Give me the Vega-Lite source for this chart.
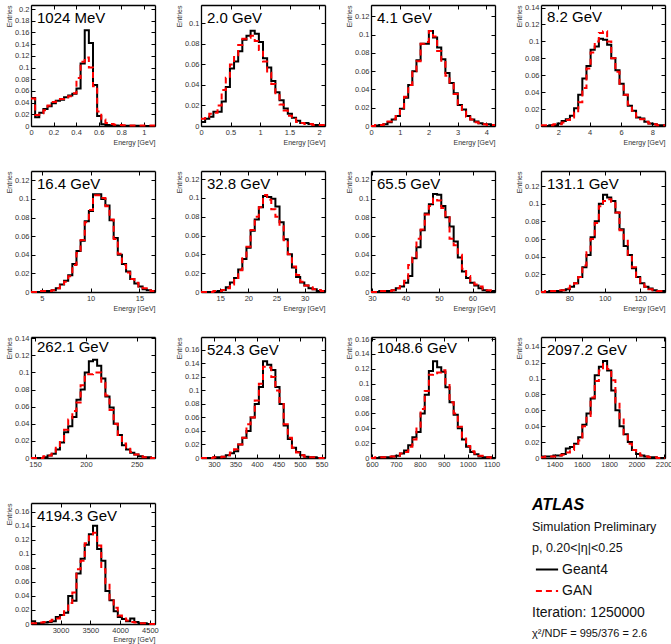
{
"$schema":"https://vega.github.io/schema/vega-lite/v6.json",
"columns":4,
"spacing":{"row":45,"column":46},
"bounds":"flush",
"padding":{"top":3,"left":5,"right":5,"bottom":5},
"resolve":{"scale":{"x":"independent","y":"independent"},"axis":{"x":"independent","y":"independent"}},
"concat":[
{"width":124,"height":121,"title":"1024 MeV",
"data":{"values":[
{"e":0,"g":0.048,"n":0.047},{"e":0.0367,"g":0.015,"n":0.019},{"e":0.0733,"g":0.0226,"n":0.022},{"e":0.11,"g":0.029,"n":0.027},{"e":0.1467,"g":0.034,"n":0.035},{"e":0.1833,"g":0.039,"n":0.041},{"e":0.22,"g":0.043,"n":0.042},{"e":0.2567,"g":0.045,"n":0.046},{"e":0.2933,"g":0.049,"n":0.049},{"e":0.33,"g":0.052,"n":0.051},{"e":0.3667,"g":0.055,"n":0.056},{"e":0.4033,"g":0.064,"n":0.082},{"e":0.44,"g":0.107,"n":0.11},{"e":0.4767,"g":0.164,"n":0.117},{"e":0.5133,"g":0.142,"n":0.1},{"e":0.55,"g":0.07,"n":0.068},{"e":0.5867,"g":0.017,"n":0.025},{"e":0.6233,"g":0.003,"n":0.011},{"e":0.66,"g":0.0015,"n":0.005},{"e":0.6967,"g":0.001,"n":0.0035},{"e":0.7333,"g":0.0008,"n":0.002},{"e":0.77,"g":0.0005,"n":0.0015},{"e":0.8067,"g":0.0005,"n":0.0012},{"e":0.8433,"g":0.0004,"n":0.001},{"e":0.88,"g":0.0003,"n":0.001},{"e":0.9167,"g":0.0003,"n":0.001},{"e":0.9533,"g":0.0002,"n":0.001},{"e":0.99,"g":0.0002,"n":0.0008},{"e":1.0267,"g":0.0001,"n":0.0008},{"e":1.0633,"g":0.0001,"n":0.0008},{"e":1.1,"g":0.0001,"n":0.0008}]},
"layer":[
{"mark":{"type":"line","interpolate":"step-after","color":"#000","strokeWidth":2},
"encoding":{"x":{"field":"e","type":"quantitative","scale":{"domain":[0,1.1],"nice":false,"zero":false},"axis":{"values":[0,0.2,0.4,0.6,0.8,1],"format":"~f","title":"Energy [GeV]"}},
"y":{"field":"g","type":"quantitative","scale":{"domain":[0,0.207],"nice":false},"axis":{"values":[0,0.02,0.04,0.06,0.08,0.1,0.12,0.14,0.16,0.18,0.2],"format":"~f","title":"Entries"}}}},
{"mark":{"type":"line","interpolate":"step-after","color":"#ff0000","strokeWidth":2,"strokeDash":[6,4]},
"encoding":{"x":{"field":"e","type":"quantitative","scale":{"domain":[0,1.1],"nice":false,"zero":false},"axis":{"orient":"top","values":[0,0.2,0.4,0.6,0.8,1],"labels":false,"title":null}},
"y":{"field":"n","type":"quantitative","scale":{"domain":[0,0.207],"nice":false},"axis":{"orient":"right","values":[0,0.02,0.04,0.06,0.08,0.1,0.12,0.14,0.16,0.18,0.2],"labels":false,"title":null}}}}],
"resolve":{"axis":{"x":"independent","y":"independent"}}},

{"width":124,"height":121,"title":"2.0 GeV",
"data":{"values":[
{"e":0,"g":0.004,"n":0.007},{"e":0.07,"g":0.007,"n":0.009},{"e":0.14,"g":0.009,"n":0.012},{"e":0.21,"g":0.014,"n":0.013},{"e":0.28,"g":0.014,"n":0.02},{"e":0.35,"g":0.024,"n":0.035},{"e":0.42,"g":0.038,"n":0.047},{"e":0.49,"g":0.056,"n":0.06},{"e":0.56,"g":0.063,"n":0.069},{"e":0.63,"g":0.073,"n":0.079},{"e":0.7,"g":0.084,"n":0.085},{"e":0.77,"g":0.088,"n":0.086},{"e":0.84,"g":0.093,"n":0.088},{"e":0.91,"g":0.09,"n":0.083},{"e":0.98,"g":0.082,"n":0.074},{"e":1.05,"g":0.066,"n":0.063},{"e":1.12,"g":0.057,"n":0.052},{"e":1.19,"g":0.044,"n":0.041},{"e":1.26,"g":0.033,"n":0.03},{"e":1.33,"g":0.025,"n":0.021},{"e":1.4,"g":0.017,"n":0.015},{"e":1.47,"g":0.012,"n":0.01},{"e":1.54,"g":0.008,"n":0.007},{"e":1.61,"g":0.005,"n":0.004},{"e":1.68,"g":0.003,"n":0.003},{"e":1.75,"g":0.003,"n":0.002},{"e":1.82,"g":0.002,"n":0.002},{"e":1.89,"g":0.001,"n":0.001},{"e":1.96,"g":0.001,"n":0.001},{"e":2.03,"g":0.0005,"n":0.001},{"e":2.1,"g":0.0005,"n":0.001}]},
"layer":[
{"mark":{"type":"line","interpolate":"step-after","color":"#000","strokeWidth":2},
"encoding":{"x":{"field":"e","type":"quantitative","scale":{"domain":[0,2.1],"nice":false,"zero":false},"axis":{"values":[0,0.5,1,1.5,2],"format":"~f","title":"Energy [GeV]"}},
"y":{"field":"g","type":"quantitative","scale":{"domain":[0,0.118],"nice":false},"axis":{"values":[0,0.02,0.04,0.06,0.08,0.1],"format":"~f","title":"Entries"}}}},
{"mark":{"type":"line","interpolate":"step-after","color":"#ff0000","strokeWidth":2,"strokeDash":[6,4]},
"encoding":{"x":{"field":"e","type":"quantitative","scale":{"domain":[0,2.1],"nice":false,"zero":false},"axis":{"orient":"top","values":[0,0.5,1,1.5,2],"labels":false,"title":null}},
"y":{"field":"n","type":"quantitative","scale":{"domain":[0,0.118],"nice":false},"axis":{"orient":"right","values":[0,0.02,0.04,0.06,0.08,0.1],"labels":false,"title":null}}}}],
"resolve":{"axis":{"x":"independent","y":"independent"}}},

{"width":124,"height":121,"title":"4.1 GeV",
"data":{"values":[
{"e":0,"g":0,"n":0},{"e":0.1433,"g":0.0005,"n":0.001},{"e":0.2867,"g":0.001,"n":0.001},{"e":0.43,"g":0.002,"n":0.002},{"e":0.5733,"g":0.004,"n":0.005},{"e":0.7167,"g":0.007,"n":0.008},{"e":0.86,"g":0.011,"n":0.011},{"e":1.0033,"g":0.019,"n":0.02},{"e":1.1467,"g":0.031,"n":0.032},{"e":1.29,"g":0.045,"n":0.045},{"e":1.4333,"g":0.06,"n":0.06},{"e":1.5767,"g":0.072,"n":0.071},{"e":1.72,"g":0.09,"n":0.09},{"e":1.8633,"g":0.09,"n":0.092},{"e":2.0067,"g":0.104,"n":0.104},{"e":2.15,"g":0.097,"n":0.098},{"e":2.2933,"g":0.086,"n":0.082},{"e":2.4367,"g":0.073,"n":0.07},{"e":2.58,"g":0.058,"n":0.055},{"e":2.7233,"g":0.047,"n":0.046},{"e":2.8667,"g":0.036,"n":0.035},{"e":3.01,"g":0.023,"n":0.022},{"e":3.1533,"g":0.018,"n":0.016},{"e":3.2967,"g":0.011,"n":0.01},{"e":3.44,"g":0.007,"n":0.007},{"e":3.5833,"g":0.005,"n":0.004},{"e":3.7267,"g":0.003,"n":0.003},{"e":3.87,"g":0.002,"n":0.002},{"e":4.0133,"g":0.002,"n":0.001},{"e":4.1567,"g":0.001,"n":0.001},{"e":4.3,"g":0.001,"n":0.001}]},
"layer":[
{"mark":{"type":"line","interpolate":"step-after","color":"#000","strokeWidth":2},
"encoding":{"x":{"field":"e","type":"quantitative","scale":{"domain":[0,4.3],"nice":false,"zero":false},"axis":{"values":[0,1,2,3,4],"format":"~f","title":"Energy [GeV]"}},
"y":{"field":"g","type":"quantitative","scale":{"domain":[0,0.1325],"nice":false},"axis":{"values":[0,0.02,0.04,0.06,0.08,0.1,0.12],"format":"~f","title":"Entries"}}}},
{"mark":{"type":"line","interpolate":"step-after","color":"#ff0000","strokeWidth":2,"strokeDash":[6,4]},
"encoding":{"x":{"field":"e","type":"quantitative","scale":{"domain":[0,4.3],"nice":false,"zero":false},"axis":{"orient":"top","values":[0,1,2,3,4],"labels":false,"title":null}},
"y":{"field":"n","type":"quantitative","scale":{"domain":[0,0.1325],"nice":false},"axis":{"orient":"right","values":[0,0.02,0.04,0.06,0.08,0.1,0.12],"labels":false,"title":null}}}}],
"resolve":{"axis":{"x":"independent","y":"independent"}}},

{"width":124,"height":121,"title":"8.2 GeV",
"data":{"values":[
{"e":0.9,"g":0,"n":0.001},{"e":1.1633,"g":0,"n":0.001},{"e":1.4267,"g":0.001,"n":0.001},{"e":1.69,"g":0.001,"n":0.002},{"e":1.9533,"g":0.003,"n":0.002},{"e":2.2167,"g":0.006,"n":0.004},{"e":2.48,"g":0.008,"n":0.007},{"e":2.7433,"g":0.012,"n":0.01},{"e":3.0067,"g":0.021,"n":0.016},{"e":3.27,"g":0.037,"n":0.028},{"e":3.5333,"g":0.056,"n":0.045},{"e":3.7967,"g":0.071,"n":0.068},{"e":4.06,"g":0.09,"n":0.087},{"e":4.3233,"g":0.094,"n":0.1},{"e":4.5867,"g":0.103,"n":0.11},{"e":4.85,"g":0.102,"n":0.112},{"e":5.1133,"g":0.096,"n":0.1},{"e":5.3767,"g":0.08,"n":0.08},{"e":5.64,"g":0.066,"n":0.064},{"e":5.9033,"g":0.05,"n":0.05},{"e":6.1667,"g":0.037,"n":0.037},{"e":6.43,"g":0.024,"n":0.025},{"e":6.6933,"g":0.018,"n":0.018},{"e":6.9567,"g":0.01,"n":0.011},{"e":7.22,"g":0.009,"n":0.008},{"e":7.4833,"g":0.005,"n":0.005},{"e":7.7467,"g":0.003,"n":0.003},{"e":8.01,"g":0.002,"n":0.002},{"e":8.2733,"g":0.001,"n":0.001},{"e":8.5367,"g":0.001,"n":0.001},{"e":8.8,"g":0.001,"n":0.001}]},
"layer":[
{"mark":{"type":"line","interpolate":"step-after","color":"#000","strokeWidth":2},
"encoding":{"x":{"field":"e","type":"quantitative","scale":{"domain":[0.9,8.8],"nice":false,"zero":false},"axis":{"values":[2,4,6,8],"format":"~f","title":"Energy [GeV]"}},
"y":{"field":"g","type":"quantitative","scale":{"domain":[0,0.143],"nice":false},"axis":{"values":[0,0.02,0.04,0.06,0.08,0.1,0.12,0.14],"format":"~f","title":"Entries"}}}},
{"mark":{"type":"line","interpolate":"step-after","color":"#ff0000","strokeWidth":2,"strokeDash":[6,4]},
"encoding":{"x":{"field":"e","type":"quantitative","scale":{"domain":[0.9,8.8],"nice":false,"zero":false},"axis":{"orient":"top","values":[2,4,6,8],"labels":false,"title":null}},
"y":{"field":"n","type":"quantitative","scale":{"domain":[0,0.143],"nice":false},"axis":{"orient":"right","values":[0,0.02,0.04,0.06,0.08,0.1,0.12,0.14],"labels":false,"title":null}}}}],
"resolve":{"axis":{"x":"independent","y":"independent"}}},

{"width":124,"height":121,"title":"16.4 GeV",
"data":{"values":[
{"e":3.9,"g":0,"n":0},{"e":4.3233,"g":0,"n":0},{"e":4.7467,"g":0,"n":0.001},{"e":5.17,"g":0.001,"n":0.001},{"e":5.5933,"g":0.001,"n":0.001},{"e":6.0167,"g":0.002,"n":0.002},{"e":6.44,"g":0.004,"n":0.004},{"e":6.8633,"g":0.008,"n":0.007},{"e":7.2867,"g":0.012,"n":0.011},{"e":7.71,"g":0.018,"n":0.017},{"e":8.1333,"g":0.03,"n":0.029},{"e":8.5567,"g":0.044,"n":0.042},{"e":8.98,"g":0.055,"n":0.056},{"e":9.4033,"g":0.076,"n":0.075},{"e":9.8267,"g":0.087,"n":0.088},{"e":10.25,"g":0.105,"n":0.104},{"e":10.6733,"g":0.105,"n":0.104},{"e":11.0967,"g":0.1,"n":0.101},{"e":11.52,"g":0.093,"n":0.092},{"e":11.9433,"g":0.077,"n":0.078},{"e":12.3667,"g":0.058,"n":0.057},{"e":12.79,"g":0.04,"n":0.041},{"e":13.2133,"g":0.03,"n":0.029},{"e":13.6367,"g":0.022,"n":0.021},{"e":14.06,"g":0.014,"n":0.014},{"e":14.4833,"g":0.009,"n":0.01},{"e":14.9067,"g":0.006,"n":0.006},{"e":15.33,"g":0.003,"n":0.004},{"e":15.7533,"g":0.002,"n":0.002},{"e":16.1767,"g":0.001,"n":0.001},{"e":16.6,"g":0.001,"n":0.001}]},
"layer":[
{"mark":{"type":"line","interpolate":"step-after","color":"#000","strokeWidth":2},
"encoding":{"x":{"field":"e","type":"quantitative","scale":{"domain":[3.9,16.6],"nice":false,"zero":false},"axis":{"values":[5,10,15],"format":"~f","title":"Energy [GeV]"}},
"y":{"field":"g","type":"quantitative","scale":{"domain":[0,0.13],"nice":false},"axis":{"values":[0,0.02,0.04,0.06,0.08,0.1,0.12],"format":"~f","title":"Entries"}}}},
{"mark":{"type":"line","interpolate":"step-after","color":"#ff0000","strokeWidth":2,"strokeDash":[6,4]},
"encoding":{"x":{"field":"e","type":"quantitative","scale":{"domain":[3.9,16.6],"nice":false,"zero":false},"axis":{"orient":"top","values":[5,10,15],"labels":false,"title":null}},
"y":{"field":"n","type":"quantitative","scale":{"domain":[0,0.13],"nice":false},"axis":{"orient":"right","values":[0,0.02,0.04,0.06,0.08,0.1,0.12],"labels":false,"title":null}}}}],
"resolve":{"axis":{"x":"independent","y":"independent"}}},

{"width":124,"height":121,"title":"32.8 GeV",
"data":{"values":[
{"e":11.6,"g":0,"n":0},{"e":12.3333,"g":0,"n":0},{"e":13.0667,"g":0,"n":0},{"e":13.8,"g":0,"n":0.001},{"e":14.5333,"g":0.001,"n":0.001},{"e":15.2667,"g":0.002,"n":0.002},{"e":16,"g":0.005,"n":0.004},{"e":16.7333,"g":0.01,"n":0.008},{"e":17.4667,"g":0.015,"n":0.015},{"e":18.2,"g":0.024,"n":0.023},{"e":18.9333,"g":0.035,"n":0.036},{"e":19.6667,"g":0.047,"n":0.048},{"e":20.4,"g":0.065,"n":0.066},{"e":21.1333,"g":0.077,"n":0.08},{"e":21.8667,"g":0.09,"n":0.09},{"e":22.6,"g":0.102,"n":0.103},{"e":23.3333,"g":0.101,"n":0.098},{"e":24.0667,"g":0.099,"n":0.088},{"e":24.8,"g":0.091,"n":0.08},{"e":25.5333,"g":0.074,"n":0.07},{"e":26.2667,"g":0.056,"n":0.055},{"e":27,"g":0.04,"n":0.04},{"e":27.7333,"g":0.026,"n":0.027},{"e":28.4667,"g":0.016,"n":0.018},{"e":29.2,"g":0.01,"n":0.011},{"e":29.9333,"g":0.007,"n":0.007},{"e":30.6667,"g":0.004,"n":0.005},{"e":31.4,"g":0.003,"n":0.003},{"e":32.1333,"g":0.001,"n":0.002},{"e":32.8667,"g":0.001,"n":0.001},{"e":33.6,"g":0.001,"n":0.001}]},
"layer":[
{"mark":{"type":"line","interpolate":"step-after","color":"#000","strokeWidth":2},
"encoding":{"x":{"field":"e","type":"quantitative","scale":{"domain":[11.6,33.6],"nice":false,"zero":false},"axis":{"values":[15,20,25,30],"format":"~f","title":"Energy [GeV]"}},
"y":{"field":"g","type":"quantitative","scale":{"domain":[0,0.1286],"nice":false},"axis":{"values":[0,0.02,0.04,0.06,0.08,0.1,0.12],"format":"~f","title":"Entries"}}}},
{"mark":{"type":"line","interpolate":"step-after","color":"#ff0000","strokeWidth":2,"strokeDash":[6,4]},
"encoding":{"x":{"field":"e","type":"quantitative","scale":{"domain":[11.6,33.6],"nice":false,"zero":false},"axis":{"orient":"top","values":[15,20,25,30],"labels":false,"title":null}},
"y":{"field":"n","type":"quantitative","scale":{"domain":[0,0.1286],"nice":false},"axis":{"orient":"right","values":[0,0.02,0.04,0.06,0.08,0.1,0.12],"labels":false,"title":null}}}}],
"resolve":{"axis":{"x":"independent","y":"independent"}}},

{"width":124,"height":121,"title":"65.5 GeV",
"data":{"values":[
{"e":29.7,"g":0,"n":0},{"e":30.9333,"g":0,"n":0},{"e":32.1667,"g":0.001,"n":0.001},{"e":33.4,"g":0.001,"n":0.001},{"e":34.6333,"g":0.001,"n":0.001},{"e":35.8667,"g":0.002,"n":0.002},{"e":37.1,"g":0.004,"n":0.004},{"e":38.3333,"g":0.006,"n":0.008},{"e":39.5667,"g":0.01,"n":0.012},{"e":40.8,"g":0.017,"n":0.029},{"e":42.0333,"g":0.036,"n":0.037},{"e":43.2667,"g":0.048,"n":0.057},{"e":44.5,"g":0.066,"n":0.067},{"e":45.7333,"g":0.084,"n":0.083},{"e":46.9667,"g":0.094,"n":0.092},{"e":48.2,"g":0.105,"n":0.1},{"e":49.4333,"g":0.104,"n":0.098},{"e":50.6667,"g":0.092,"n":0.09},{"e":51.9,"g":0.08,"n":0.08},{"e":53.1333,"g":0.07,"n":0.057},{"e":54.3667,"g":0.054,"n":0.05},{"e":55.6,"g":0.037,"n":0.04},{"e":56.8333,"g":0.022,"n":0.025},{"e":58.0667,"g":0.015,"n":0.017},{"e":59.3,"g":0.01,"n":0.01},{"e":60.5333,"g":0.007,"n":0.008},{"e":61.7667,"g":0.004,"n":0.006},{"e":63,"g":0.002,"n":0.003},{"e":64.2333,"g":0.001,"n":0.002},{"e":65.4667,"g":0.001,"n":0.001},{"e":66.7,"g":0.001,"n":0.001}]},
"layer":[
{"mark":{"type":"line","interpolate":"step-after","color":"#000","strokeWidth":2},
"encoding":{"x":{"field":"e","type":"quantitative","scale":{"domain":[29.7,66.7],"nice":false,"zero":false},"axis":{"values":[30,40,50,60],"format":"~f","title":"Energy [GeV]"}},
"y":{"field":"g","type":"quantitative","scale":{"domain":[0,0.1295],"nice":false},"axis":{"values":[0,0.02,0.04,0.06,0.08,0.1,0.12],"format":"~f","title":"Entries"}}}},
{"mark":{"type":"line","interpolate":"step-after","color":"#ff0000","strokeWidth":2,"strokeDash":[6,4]},
"encoding":{"x":{"field":"e","type":"quantitative","scale":{"domain":[29.7,66.7],"nice":false,"zero":false},"axis":{"orient":"top","values":[30,40,50,60],"labels":false,"title":null}},
"y":{"field":"n","type":"quantitative","scale":{"domain":[0,0.1295],"nice":false},"axis":{"orient":"right","values":[0,0.02,0.04,0.06,0.08,0.1,0.12],"labels":false,"title":null}}}}],
"resolve":{"axis":{"x":"independent","y":"independent"}}},

{"width":124,"height":121,"title":"131.1 GeV",
"data":{"values":[
{"e":64,"g":0,"n":0},{"e":66.333,"g":0,"n":0.001},{"e":68.667,"g":0.001,"n":0.001},{"e":71,"g":0.001,"n":0.001},{"e":73.333,"g":0.001,"n":0.002},{"e":75.667,"g":0.002,"n":0.002},{"e":78,"g":0.003,"n":0.004},{"e":80.333,"g":0.006,"n":0.007},{"e":82.667,"g":0.01,"n":0.01},{"e":85,"g":0.017,"n":0.017},{"e":87.333,"g":0.028,"n":0.03},{"e":89.667,"g":0.042,"n":0.045},{"e":92,"g":0.062,"n":0.06},{"e":94.333,"g":0.08,"n":0.078},{"e":96.667,"g":0.1,"n":0.097},{"e":99,"g":0.11,"n":0.103},{"e":101.333,"g":0.107,"n":0.105},{"e":103.667,"g":0.103,"n":0.102},{"e":106,"g":0.09,"n":0.09},{"e":108.333,"g":0.071,"n":0.07},{"e":110.667,"g":0.052,"n":0.058},{"e":113,"g":0.042,"n":0.04},{"e":115.333,"g":0.027,"n":0.028},{"e":117.667,"g":0.017,"n":0.017},{"e":120,"g":0.01,"n":0.011},{"e":122.333,"g":0.006,"n":0.006},{"e":124.667,"g":0.004,"n":0.003},{"e":127,"g":0.002,"n":0.002},{"e":129.333,"g":0.001,"n":0.001},{"e":131.667,"g":0.001,"n":0.001},{"e":134,"g":0.001,"n":0.001}]},
"layer":[
{"mark":{"type":"line","interpolate":"step-after","color":"#000","strokeWidth":2},
"encoding":{"x":{"field":"e","type":"quantitative","scale":{"domain":[64,134],"nice":false,"zero":false},"axis":{"values":[80,100,120],"format":"~f","title":"Energy [GeV]"}},
"y":{"field":"g","type":"quantitative","scale":{"domain":[0,0.137],"nice":false},"axis":{"values":[0,0.02,0.04,0.06,0.08,0.1,0.12],"format":"~f","title":"Entries"}}}},
{"mark":{"type":"line","interpolate":"step-after","color":"#ff0000","strokeWidth":2,"strokeDash":[6,4]},
"encoding":{"x":{"field":"e","type":"quantitative","scale":{"domain":[64,134],"nice":false,"zero":false},"axis":{"orient":"top","values":[80,100,120],"labels":false,"title":null}},
"y":{"field":"n","type":"quantitative","scale":{"domain":[0,0.137],"nice":false},"axis":{"orient":"right","values":[0,0.02,0.04,0.06,0.08,0.1,0.12],"labels":false,"title":null}}}}],
"resolve":{"axis":{"x":"independent","y":"independent"}}},

{"width":124,"height":121,"title":"262.1 GeV",
"data":{"values":[
{"e":146,"g":0,"n":0},{"e":150.07,"g":0,"n":0},{"e":154.13,"g":0,"n":0},{"e":158.2,"g":0.001,"n":0.002},{"e":162.27,"g":0.003,"n":0.003},{"e":166.33,"g":0.005,"n":0.005},{"e":170.4,"g":0.01,"n":0.012},{"e":174.47,"g":0.018,"n":0.02},{"e":178.53,"g":0.03,"n":0.033},{"e":182.6,"g":0.037,"n":0.045},{"e":186.67,"g":0.048,"n":0.055},{"e":190.73,"g":0.068,"n":0.065},{"e":194.8,"g":0.08,"n":0.085},{"e":198.87,"g":0.1,"n":0.098},{"e":202.93,"g":0.113,"n":0.098},{"e":207,"g":0.115,"n":0.1},{"e":211.07,"g":0.108,"n":0.1},{"e":215.13,"g":0.093,"n":0.088},{"e":219.2,"g":0.072,"n":0.073},{"e":223.27,"g":0.059,"n":0.056},{"e":227.33,"g":0.04,"n":0.04},{"e":231.4,"g":0.027,"n":0.027},{"e":235.47,"g":0.015,"n":0.017},{"e":239.53,"g":0.01,"n":0.012},{"e":243.6,"g":0.006,"n":0.007},{"e":247.67,"g":0.004,"n":0.004},{"e":251.73,"g":0.002,"n":0.002},{"e":255.8,"g":0.001,"n":0.001},{"e":259.87,"g":0.001,"n":0.001},{"e":263.93,"g":0,"n":0},{"e":268,"g":0,"n":0}]},
"layer":[
{"mark":{"type":"line","interpolate":"step-after","color":"#000","strokeWidth":2},
"encoding":{"x":{"field":"e","type":"quantitative","scale":{"domain":[146,268],"nice":false,"zero":false},"axis":{"values":[150,200,250],"format":"~f","title":null}},
"y":{"field":"g","type":"quantitative","scale":{"domain":[0,0.1415],"nice":false},"axis":{"values":[0,0.02,0.04,0.06,0.08,0.1,0.12,0.14],"format":"~f","title":"Entries"}}}},
{"mark":{"type":"line","interpolate":"step-after","color":"#ff0000","strokeWidth":2,"strokeDash":[6,4]},
"encoding":{"x":{"field":"e","type":"quantitative","scale":{"domain":[146,268],"nice":false,"zero":false},"axis":{"orient":"top","values":[150,200,250],"labels":false,"title":null}},
"y":{"field":"n","type":"quantitative","scale":{"domain":[0,0.1415],"nice":false},"axis":{"orient":"right","values":[0,0.02,0.04,0.06,0.08,0.1,0.12,0.14],"labels":false,"title":null}}}}],
"resolve":{"axis":{"x":"independent","y":"independent"}}},

{"width":124,"height":121,"title":"524.3 GeV",
"data":{"values":[
{"e":270,"g":0,"n":0},{"e":279.6,"g":0,"n":0},{"e":289.2,"g":0,"n":0},{"e":298.8,"g":0.001,"n":0.001},{"e":308.4,"g":0.001,"n":0.001},{"e":318,"g":0.002,"n":0.002},{"e":327.6,"g":0.004,"n":0.004},{"e":337.2,"g":0.007,"n":0.008},{"e":346.8,"g":0.01,"n":0.013},{"e":356.4,"g":0.02,"n":0.02},{"e":366,"g":0.03,"n":0.03},{"e":375.6,"g":0.04,"n":0.05},{"e":385.2,"g":0.06,"n":0.06},{"e":394.8,"g":0.08,"n":0.085},{"e":404.4,"g":0.105,"n":0.11},{"e":414,"g":0.143,"n":0.135},{"e":423.6,"g":0.138,"n":0.134},{"e":433.2,"g":0.13,"n":0.12},{"e":442.8,"g":0.105,"n":0.1},{"e":452.4,"g":0.08,"n":0.08},{"e":462,"g":0.048,"n":0.05},{"e":471.6,"g":0.028,"n":0.03},{"e":481.2,"g":0.015,"n":0.015},{"e":490.8,"g":0.009,"n":0.008},{"e":500.4,"g":0.004,"n":0.004},{"e":510,"g":0.002,"n":0.002},{"e":519.6,"g":0.001,"n":0.001},{"e":529.2,"g":0.001,"n":0.001},{"e":538.8,"g":0,"n":0},{"e":548.4,"g":0,"n":0},{"e":558,"g":0,"n":0}]},
"layer":[
{"mark":{"type":"line","interpolate":"step-after","color":"#000","strokeWidth":2},
"encoding":{"x":{"field":"e","type":"quantitative","scale":{"domain":[270,558],"nice":false,"zero":false},"axis":{"values":[300,350,400,450,500,550],"format":"~f","title":null}},
"y":{"field":"g","type":"quantitative","scale":{"domain":[0,0.179],"nice":false},"axis":{"values":[0,0.02,0.04,0.06,0.08,0.1,0.12,0.14,0.16],"format":"~f","title":"Entries"}}}},
{"mark":{"type":"line","interpolate":"step-after","color":"#ff0000","strokeWidth":2,"strokeDash":[6,4]},
"encoding":{"x":{"field":"e","type":"quantitative","scale":{"domain":[270,558],"nice":false,"zero":false},"axis":{"orient":"top","values":[300,350,400,450,500,550],"labels":false,"title":null}},
"y":{"field":"n","type":"quantitative","scale":{"domain":[0,0.179],"nice":false},"axis":{"orient":"right","values":[0,0.02,0.04,0.06,0.08,0.1,0.12,0.14,0.16],"labels":false,"title":null}}}}],
"resolve":{"axis":{"x":"independent","y":"independent"}}},

{"width":124,"height":121,"title":"1048.6 GeV",
"data":{"values":[
{"e":596,"g":0,"n":0},{"e":613.27,"g":0,"n":0.001},{"e":630.53,"g":0.001,"n":0.001},{"e":647.8,"g":0.001,"n":0.001},{"e":665.07,"g":0.001,"n":0.002},{"e":682.33,"g":0.002,"n":0.002},{"e":699.6,"g":0.003,"n":0.003},{"e":716.87,"g":0.006,"n":0.006},{"e":734.13,"g":0.01,"n":0.008},{"e":751.4,"g":0.017,"n":0.015},{"e":768.67,"g":0.028,"n":0.025},{"e":785.93,"g":0.035,"n":0.042},{"e":803.2,"g":0.06,"n":0.066},{"e":820.47,"g":0.085,"n":0.09},{"e":837.73,"g":0.117,"n":0.112},{"e":855,"g":0.13,"n":0.114},{"e":872.27,"g":0.122,"n":0.115},{"e":889.53,"g":0.116,"n":0.118},{"e":906.8,"g":0.095,"n":0.1},{"e":924.07,"g":0.075,"n":0.075},{"e":941.33,"g":0.058,"n":0.06},{"e":958.6,"g":0.04,"n":0.042},{"e":975.87,"g":0.025,"n":0.028},{"e":993.13,"g":0.015,"n":0.016},{"e":1010.4,"g":0.008,"n":0.009},{"e":1027.67,"g":0.005,"n":0.006},{"e":1044.93,"g":0.002,"n":0.003},{"e":1062.2,"g":0.001,"n":0.001},{"e":1079.47,"g":0.001,"n":0.001},{"e":1096.73,"g":0,"n":0},{"e":1114,"g":0,"n":0}]},
"layer":[
{"mark":{"type":"line","interpolate":"step-after","color":"#000","strokeWidth":2},
"encoding":{"x":{"field":"e","type":"quantitative","scale":{"domain":[596,1114],"nice":false,"zero":false},"axis":{"values":[600,700,800,900,1000,1100],"format":"~f","title":null}},
"y":{"field":"g","type":"quantitative","scale":{"domain":[0,0.1627],"nice":false},"axis":{"values":[0,0.02,0.04,0.06,0.08,0.1,0.12,0.14,0.16],"format":"~f","title":"Entries"}}}},
{"mark":{"type":"line","interpolate":"step-after","color":"#ff0000","strokeWidth":2,"strokeDash":[6,4]},
"encoding":{"x":{"field":"e","type":"quantitative","scale":{"domain":[596,1114],"nice":false,"zero":false},"axis":{"orient":"top","values":[600,700,800,900,1000,1100],"labels":false,"title":null}},
"y":{"field":"n","type":"quantitative","scale":{"domain":[0,0.1627],"nice":false},"axis":{"orient":"right","values":[0,0.02,0.04,0.06,0.08,0.1,0.12,0.14,0.16],"labels":false,"title":null}}}}],
"resolve":{"axis":{"x":"independent","y":"independent"}}},

{"width":124,"height":121,"title":"2097.2 GeV",
"data":{"values":[
{"e":1300,"g":0.002,"n":0.001},{"e":1330.3,"g":0.002,"n":0.002},{"e":1360.7,"g":0.002,"n":0.002},{"e":1391,"g":0.003,"n":0.002},{"e":1421.3,"g":0.003,"n":0.003},{"e":1451.7,"g":0.005,"n":0.004},{"e":1482,"g":0.012,"n":0.007},{"e":1512.3,"g":0.014,"n":0.01},{"e":1542.7,"g":0.018,"n":0.018},{"e":1573,"g":0.026,"n":0.022},{"e":1603.3,"g":0.042,"n":0.04},{"e":1633.7,"g":0.056,"n":0.053},{"e":1664,"g":0.075,"n":0.076},{"e":1694.3,"g":0.104,"n":0.097},{"e":1724.7,"g":0.115,"n":0.11},{"e":1755,"g":0.122,"n":0.118},{"e":1785.3,"g":0.11,"n":0.112},{"e":1815.7,"g":0.085,"n":0.098},{"e":1846,"g":0.06,"n":0.07},{"e":1876.3,"g":0.04,"n":0.05},{"e":1906.7,"g":0.03,"n":0.03},{"e":1937,"g":0.02,"n":0.018},{"e":1967.3,"g":0.01,"n":0.01},{"e":1997.7,"g":0.005,"n":0.006},{"e":2028,"g":0.003,"n":0.003},{"e":2058.3,"g":0.002,"n":0.002},{"e":2088.7,"g":0.001,"n":0.001},{"e":2119,"g":0.001,"n":0.001},{"e":2149.3,"g":0,"n":0},{"e":2179.7,"g":0,"n":0},{"e":2210,"g":0,"n":0}]},
"layer":[
{"mark":{"type":"line","interpolate":"step-after","color":"#000","strokeWidth":2},
"encoding":{"x":{"field":"e","type":"quantitative","scale":{"domain":[1300,2210],"nice":false,"zero":false},"axis":{"values":[1400,1600,1800,2000,2200],"format":"~f","title":null}},
"y":{"field":"g","type":"quantitative","scale":{"domain":[0,0.1523],"nice":false},"axis":{"values":[0,0.02,0.04,0.06,0.08,0.1,0.12,0.14],"format":"~f","title":"Entries"}}}},
{"mark":{"type":"line","interpolate":"step-after","color":"#ff0000","strokeWidth":2,"strokeDash":[6,4]},
"encoding":{"x":{"field":"e","type":"quantitative","scale":{"domain":[1300,2210],"nice":false,"zero":false},"axis":{"orient":"top","values":[1400,1600,1800,2000,2200],"labels":false,"title":null}},
"y":{"field":"n","type":"quantitative","scale":{"domain":[0,0.1523],"nice":false},"axis":{"orient":"right","values":[0,0.02,0.04,0.06,0.08,0.1,0.12,0.14],"labels":false,"title":null}}}}],
"resolve":{"axis":{"x":"independent","y":"independent"}}},

{"width":124,"height":121,"title":"4194.3 GeV",
"data":{"values":[
{"e":2505,"g":0.004,"n":0.001},{"e":2574.3,"g":0.001,"n":0.001},{"e":2643.7,"g":0.001,"n":0.002},{"e":2713,"g":0.002,"n":0.003},{"e":2782.3,"g":0.003,"n":0.004},{"e":2851.7,"g":0.004,"n":0.006},{"e":2921,"g":0.01,"n":0.008},{"e":2990.3,"g":0.013,"n":0.013},{"e":3059.7,"g":0.016,"n":0.02},{"e":3129,"g":0.04,"n":0.03},{"e":3198.3,"g":0.033,"n":0.045},{"e":3267.7,"g":0.072,"n":0.078},{"e":3337,"g":0.093,"n":0.09},{"e":3406.3,"g":0.113,"n":0.115},{"e":3475.7,"g":0.128,"n":0.125},{"e":3545,"g":0.14,"n":0.13},{"e":3614.3,"g":0.107,"n":0.112},{"e":3683.7,"g":0.09,"n":0.078},{"e":3753,"g":0.047,"n":0.058},{"e":3822.3,"g":0.034,"n":0.035},{"e":3891.7,"g":0.018,"n":0.023},{"e":3961,"g":0.01,"n":0.012},{"e":4030.3,"g":0.007,"n":0.008},{"e":4099.7,"g":0.004,"n":0.005},{"e":4169,"g":0.008,"n":0.003},{"e":4238.3,"g":0.003,"n":0.002},{"e":4307.7,"g":0.001,"n":0.001},{"e":4377,"g":0.001,"n":0.001},{"e":4446.3,"g":0,"n":0},{"e":4515.7,"g":0,"n":0},{"e":4585,"g":0,"n":0}]},
"layer":[
{"mark":{"type":"line","interpolate":"step-after","color":"#000","strokeWidth":2},
"encoding":{"x":{"field":"e","type":"quantitative","scale":{"domain":[2505,4585],"nice":false,"zero":false},"axis":{"values":[3000,3500,4000,4500],"format":"~f","title":"Energy [GeV]","titlePadding":2}},
"y":{"field":"g","type":"quantitative","scale":{"domain":[0,0.1724],"nice":false},"axis":{"values":[0,0.02,0.04,0.06,0.08,0.1,0.12,0.14,0.16],"format":"~f","title":"Entries"}}}},
{"mark":{"type":"line","interpolate":"step-after","color":"#ff0000","strokeWidth":2,"strokeDash":[6,4]},
"encoding":{"x":{"field":"e","type":"quantitative","scale":{"domain":[2505,4585],"nice":false,"zero":false},"axis":{"orient":"top","values":[3000,3500,4000,4500],"labels":false,"title":null}},
"y":{"field":"n","type":"quantitative","scale":{"domain":[0,0.1724],"nice":false},"axis":{"orient":"right","values":[0,0.02,0.04,0.06,0.08,0.1,0.12,0.14,0.16],"labels":false,"title":null}}}}],
"resolve":{"axis":{"x":"independent","y":"independent"}}},

{"width":124,"height":121,"data":{"values":[]},"mark":"point"},
{"width":124,"height":121,"data":{"values":[]},"mark":"point"},

{"width":124,"height":121,
"layer":[
{"data":{"values":[{"r":0,"c":0,"t":"ATLAS"}]},
"mark":{"type":"text","align":"left","baseline":"middle","fontSize":16,"fontWeight":"bold","fontStyle":"italic","color":"#000"},
"encoding":{"x":{"field":"c","type":"quantitative","scale":{"domain":[0,1],"range":[-9,21]},"axis":null},"y":{"field":"r","type":"quantitative","scale":{"domain":[0,6],"range":[2,131]},"axis":null},"text":{"field":"t"}}},
{"data":{"values":[{"r":1,"c":0,"t":"Simulation Preliminary"},{"r":2,"c":0,"t":"p, 0.20<|η|<0.25"}]},
"mark":{"type":"text","align":"left","baseline":"middle","fontSize":12.5,"color":"#111"},
"encoding":{"x":{"field":"c","type":"quantitative","scale":{"domain":[0,1],"range":[-9,21]},"axis":null},"y":{"field":"r","type":"quantitative","scale":{"domain":[0,6],"range":[2,131]},"axis":null},"text":{"field":"t"}}},
{"data":{"values":[{"r":3,"c":1,"t":"Geant4"},{"r":4,"c":1,"t":"GAN"},{"r":5,"c":0,"t":"Iteration: 1250000"}]},
"mark":{"type":"text","align":"left","baseline":"middle","fontSize":14,"color":"#111"},
"encoding":{"x":{"field":"c","type":"quantitative","scale":{"domain":[0,1],"range":[-9,21]},"axis":null},"y":{"field":"r","type":"quantitative","scale":{"domain":[0,6],"range":[2,131]},"axis":null},"text":{"field":"t"}}},
{"data":{"values":[{"r":6,"c":0,"t":"χ²/NDF = 995/376 = 2.6"}]},
"mark":{"type":"text","align":"left","baseline":"middle","fontSize":11,"color":"#111"},
"encoding":{"x":{"field":"c","type":"quantitative","scale":{"domain":[0,1],"range":[-9,21]},"axis":null},"y":{"field":"r","type":"quantitative","scale":{"domain":[0,6],"range":[2,131]},"axis":null},"text":{"field":"t"}}},
{"data":{"values":[{"r":3,"c":0.13},{"r":3,"c":0.87}]},
"mark":{"type":"line","color":"#000","strokeWidth":2},
"encoding":{"x":{"field":"c","type":"quantitative","scale":{"domain":[0,1],"range":[-9,21]},"axis":null},"y":{"field":"r","type":"quantitative","scale":{"domain":[0,6],"range":[2,131]},"axis":null}}},
{"data":{"values":[{"r":4,"c":0.13},{"r":4,"c":0.87}]},
"mark":{"type":"line","color":"#ff0000","strokeWidth":2,"strokeDash":[6,4]},
"encoding":{"x":{"field":"c","type":"quantitative","scale":{"domain":[0,1],"range":[-9,21]},"axis":null},"y":{"field":"r","type":"quantitative","scale":{"domain":[0,6],"range":[2,131]},"axis":null}}}
]}
],
"config":{
"font":"Liberation Sans",
"view":{"stroke":null},
"axis":{"domainColor":"#000","domainWidth":1.3,"tickColor":"#000","tickWidth":1,"tickSize":-4,"labelFontSize":7.5,"labelColor":"#333","labelPadding":6,"labelFlush":false,"labelOverlap":false,"titleFontSize":7,"titleFontWeight":"normal","titleColor":"#333","grid":false},
"axisX":{"titleAnchor":"end","titlePadding":3},
"axisY":{"titleAnchor":"end","titlePadding":2},
"title":{"anchor":"start","frame":"group","offset":-21,"dx":6,"fontSize":15,"fontWeight":"normal","color":"#000","baseline":"alphabetic"}
}
}
